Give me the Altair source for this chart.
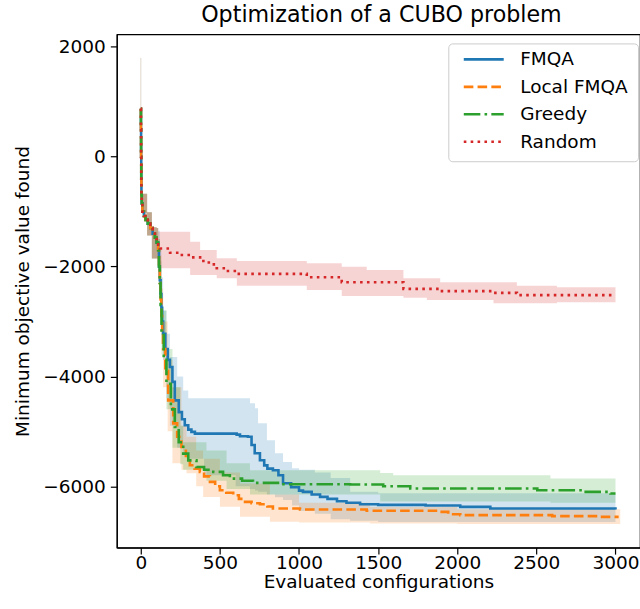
import altair as alt
import pandas as pd

series_names = ["FMQA", "Local FMQA", "Greedy", "Random"]
colors = ["#1f77b4", "#ff7f0e", "#2ca02c", "#d62728"]
dashes = [[1, 0], [9.6, 4.2], [16.6, 4.2, 2.6, 4.2], [2.6, 4.3]]

x_ticks = [0, 500, 1000, 1500, 2000, 2500, 3000]
y_ticks = [-6000, -4000, -2000, 0, 2000]

# shared start (random initial evaluations)
common_x = [0, 1, 2, 3, 4, 6, 10, 20, 30, 44, 60, 75, 89, 100]
common_y = [873, 500, 0, -400, -700, -850, -1000, -1080, -1150, -1218, -1300, -1400, -1473, -1564]
common_bx = [0, 2, 4, 8, 40, 70]
common_lo = [0, -500, -800, -1036, -1436, -1855]
common_hi = [1800, 700, -100, -673, -1012, -1285]

# FMQA
fmqa_x = [110, 115, 120, 125, 130, 135, 141, 155, 170, 184, 200, 215, 240, 260, 278, 300, 320, 342,
          606, 627, 677, 700, 720, 753, 780, 800, 835, 870, 899, 950, 1000, 1025, 1080, 1133, 1180,
          1240, 1300, 1386, 1500, 1800, 2019, 2209, 3000]
fmqa_y = [-1700, -2000, -2250, -2500, -2750, -3000, -3224, -3500, -3700, -3830, -4100, -4436, -4650,
          -4780, -4891, -4970, -5010, -5042, -5060, -5091, -5100, -5250, -5400, -5527, -5620, -5680,
          -5709, -5800, -5945, -6020, -6080, -6103, -6150, -6194, -6230, -6273, -6300, -6327, -6340,
          -6350, -6376, -6406, -6424]
fmqa_bx = [100, 110, 120, 130, 141, 162, 184, 230, 268, 300, 400, 600, 690, 722, 741, 797, 848, 899,
           956, 1000, 1100, 1200, 1323, 1500, 3000]
fmqa_hi = [-1300, -1350, -1700, -2200, -2800, -3224, -3648, -4000, -4255, -4400, -4400, -4400, -4490,
           -4582, -4855, -5164, -5400, -5558, -5673, -5700, -5750, -5850, -6100, -6130, -6164]
fmqa_lo = [-1855, -2000, -2500, -3000, -3700, -4400, -4900, -5300, -5400, -5500, -5800, -6000, -6050,
           -6080, -6100, -6150, -6200, -6250, -6350, -6450, -6500, -6600, -6630, -6650, -6650]

# Local FMQA
local_x = [110, 115, 120, 125, 130, 135, 141, 155, 173, 205, 230, 257, 285, 310, 340, 373, 400, 437,
           470, 500, 540, 584, 620, 648, 700, 753, 800, 835, 1006, 1428, 1892, 1943, 2019, 2600, 2886, 3020]
local_y = [-1700, -2000, -2300, -2600, -2900, -3200, -3500, -3900, -4436, -4855, -5100, -5285, -5450,
           -5618, -5680, -5739, -5820, -5921, -6000, -6073, -6120, -6164, -6230, -6285, -6310, -6327,
           -6370, -6406, -6424, -6448, -6467, -6509, -6527, -6545, -6558, -6558]
local_bx = [100, 110, 120, 130, 141, 170, 200, 257, 289, 350, 394, 500, 627, 816, 1000, 1449, 2000, 3030]
local_hi = [-1300, -1500, -1800, -2400, -3000, -3700, -4200, -4900, -5100, -5350, -5500, -5750, -5950,
            -6150, -6300, -6380, -6420, -6436]
local_lo = [-1855, -2000, -2600, -3400, -4200, -5000, -5582, -5700, -5764, -6000, -6194, -6376, -6558,
            -6648, -6660, -6679, -6690, -6690]

# Greedy
greedy_x = [110, 115, 120, 125, 131, 145, 162, 190, 215, 240, 268, 300, 352, 400, 458, 520, 563, 640,
            709, 880, 1323, 1532, 1703, 2506, 2797, 2968, 3000]
greedy_y = [-1700, -2000, -2300, -2700, -3224, -3700, -4133, -4600, -4921, -5200, -5406, -5530, -5649,
            -5700, -5739, -5800, -5861, -5900, -5939, -5964, -5970, -6000, -6042, -6073, -6103, -6133, -6133]
greedy_bx = [100, 110, 120, 131, 162, 200, 250, 268, 415, 542, 690, 1513, 1595, 2589, 3000]
greedy_hi = [-1300, -1500, -1900, -2800, -3500, -4200, -4900, -5200, -5350, -5582, -5709, -5760, -5800,
             -5861, -5921]
greedy_lo = [-1855, -2000, -2600, -3600, -4600, -5300, -5600, -5700, -5900, -6050, -6150, -6280, -6280,
             -6300, -6300]

# Random
random_x = [110, 122, 185, 248, 312, 375, 430, 480, 540, 607, 1049, 1270, 1660, 1892, 2229, 2377, 3000]
random_y = [-1600, -1670, -1749, -1790, -1833, -1900, -1960, -2030, -2080, -2133, -2194, -2285, -2406,
            -2448, -2479, -2521, -2521]
random_bx = [100, 110, 312, 375, 480, 607, 1049, 1270, 1428, 1660, 1808, 1892, 2229, 2377, 2630, 3000]
random_hi = [-1300, -1367, -1549, -1700, -1851, -1900, -1942, -2003, -2064, -2215, -2215, -2288, -2288,
             -2349, -2379, -2379]
random_lo = [-1855, -2033, -2155, -2155, -2215, -2349, -2427, -2536, -2536, -2567, -2609, -2609, -2670,
             -2670, -2650, -2650]

line_parts = {
    "FMQA": (fmqa_x, fmqa_y),
    "Local FMQA": (local_x, local_y),
    "Greedy": (greedy_x, greedy_y),
    "Random": (random_x, random_y),
}
band_parts = {
    "FMQA": (fmqa_bx, fmqa_lo, fmqa_hi),
    "Local FMQA": (local_bx, local_lo, local_hi),
    "Greedy": (greedy_bx, greedy_lo, greedy_hi),
    "Random": (random_bx, random_lo, random_hi),
}

line_rows = []
band_rows = []
for name, col in zip(series_names, colors):
    xs, ys = line_parts[name]
    for xv, yv in zip(common_x + xs, common_y + ys):
        line_rows.append({"x": xv, "y": yv, "series": name})
    bxs, los, his = band_parts[name]
    for xv, lo, hi in zip(common_bx + bxs, common_lo + los, common_hi + his):
        band_rows.append({"x": xv, "lo": lo, "hi": hi, "series": name, "band_color": col})

line_df = pd.DataFrame(line_rows)
band_df = pd.DataFrame(band_rows)

x_scale = alt.Scale(domain=[-151.5, 3155], nice=False, zero=False)
y_scale = alt.Scale(domain=[-7118, 2227], nice=False, zero=False)
color_scale = alt.Scale(domain=series_names, range=colors)
dash_scale = alt.Scale(domain=series_names, range=dashes)

x_enc = alt.X("x:Q", scale=x_scale, title="Evaluated configurations",
              axis=alt.Axis(values=x_ticks, format="d"))

bands = alt.Chart(band_df).mark_area(interpolate="step-after", opacity=0.2).encode(
    x=x_enc,
    y=alt.Y("lo:Q", scale=y_scale, title="Minimum objective value found",
            axis=alt.Axis(values=y_ticks, format="d")),
    y2="hi:Q",
    fill=alt.Fill("band_color:N", scale=None),
    detail="series:N",
)

legend_def = alt.Legend(orient="none", legendX=332, legendY=9, symbolType="stroke")

lines = alt.Chart(line_df).mark_line(interpolate="step-after", strokeWidth=2.6).encode(
    x=x_enc,
    y=alt.Y("y:Q", scale=y_scale, title="Minimum objective value found",
            axis=alt.Axis(values=y_ticks, format="d")),
    color=alt.Color("series:N", scale=color_scale, title=None, legend=legend_def),
    strokeDash=alt.StrokeDash("series:N", scale=dash_scale, title=None, legend=legend_def),
)

chart = alt.layer(bands, lines).properties(
    width=524,
    height=514,
    padding={"left": 117, "top": 34, "right": 0, "bottom": 61},
    autosize=alt.AutoSizeParams(type="none"),
    title=alt.TitleParams(
        "Optimization of a CUBO problem",
        font="DejaVu Sans", fontSize=22.2, fontWeight="normal", color="black",
        anchor="middle", frame="group", offset=8, dx=3,
    ),
).configure_view(
    stroke="black", strokeWidth=1.2
).configure_axis(
    labelFont="DejaVu Sans", labelFontSize=18.5, labelColor="black",
    titleFont="DejaVu Sans", titleFontSize=18.5, titleFontWeight="normal", titleColor="black",
    tickColor="black", domainColor="black", tickSize=6.5, tickWidth=1.2, domainWidth=1.2,
    grid=False, labelPadding=-1,
).configure_axisY(
    labelPadding=5, titlePadding=10,
).configure_axisX(
    titlePadding=1,
).configure_legend(
    symbolSize=1600, symbolStrokeWidth=2.6, clipHeight=12, rowPadding=8.5,
    symbolOffset=4, labelOffset=15,
    labelFont="DejaVu Sans", labelFontSize=18.5, labelColor="black",
    padding=10, strokeColor="#cccccc", fillColor="rgba(255,255,255,0.8)", cornerRadius=4,
)

chart.save("out.html", embed_options={"renderer": "svg", "actions": False})
